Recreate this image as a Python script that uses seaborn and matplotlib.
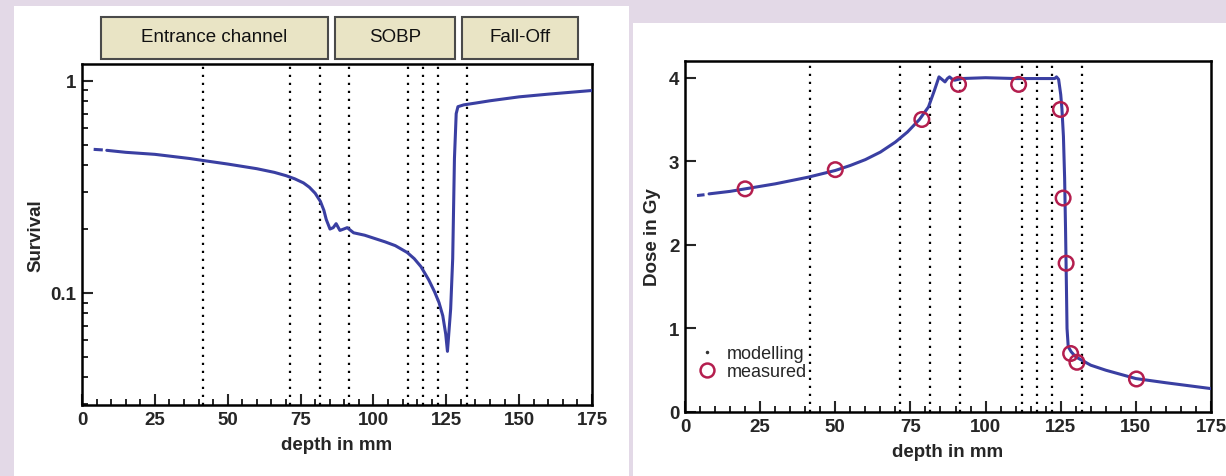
import numpy as np
import pandas as pd
import matplotlib
matplotlib.use("Agg")
import matplotlib.pyplot as plt
from matplotlib.patches import Rectangle
from matplotlib.lines import Line2D
from matplotlib.ticker import MultipleLocator, FixedLocator, NullFormatter
import seaborn as sns

# --- data ---
# survival (left panel, log scale)
surv_depth = [4, 7.2,
              8.5, 15, 25, 37, 42, 50, 60, 66, 70, 73, 76, 78, 80, 81.8, 83, 83.8, 85.1,
              86.2, 87.2, 88.5, 89.8, 91, 93.2, 97, 100.7, 104, 107.5, 111.6,
              114, 116.3, 119, 121, 122.5, 123.8, 124.8, 125.4, 126.5, 127.2,
              127.8, 128.4, 129, 131, 135, 140, 150, 160, 175]
surv_value = [0.475, 0.472,
              0.47, 0.46, 0.45, 0.43, 0.42, 0.405, 0.385, 0.37, 0.357, 0.345, 0.33,
              0.315, 0.295, 0.27, 0.245, 0.222, 0.2, 0.203, 0.212, 0.197, 0.2, 0.203,
              0.192, 0.187, 0.18, 0.174, 0.167, 0.155, 0.145, 0.133, 0.115, 0.101,
              0.09, 0.078, 0.064, 0.053, 0.084, 0.145, 0.43, 0.7, 0.755, 0.77,
              0.785, 0.805, 0.84, 0.865, 0.9]

# dose (right panel)
dose_depth = [4, 6.5,
              8, 15, 20, 30, 41, 50, 55, 60, 65, 70, 74, 78, 81, 83, 84.5, 85.5, 86.5,
              87.3, 88, 89, 89.7, 92, 100, 110, 118, 123, 123.6, 124.3, 125.0,
              125.4, 125.9, 126.3, 126.6, 126.9, 127.1, 127.5, 128.5, 130, 135,
              140, 150, 160, 175]
dose_value = [2.59, 2.6,
              2.61, 2.64, 2.67, 2.73, 2.81, 2.89, 2.95, 3.02, 3.11, 3.23, 3.35, 3.5,
              3.65, 3.85, 4.01, 3.98, 3.95, 3.99, 4.01, 3.98, 3.97, 3.99, 4.0, 3.99,
              3.99, 3.99, 4.01, 3.98, 3.8, 3.63, 3.3, 2.8, 2.2, 1.5, 1.0, 0.78, 0.72,
              0.66, 0.56, 0.5, 0.4, 0.35, 0.28]

meas_depth = [20, 50, 78.8, 91, 111, 124.9, 125.8, 126.8, 128.3, 130.4, 150.2]
meas_dose = [2.67, 2.90, 3.50, 3.92, 3.92, 3.62, 2.56, 1.78, 0.70, 0.595, 0.395]

# dotted region boundaries (mm)
boundaries = [41.5, 71.5, 81.5, 91.5, 112, 117, 122, 132]

region_labels = ["Entrance channel", "SOBP", "Fall-Off"]

# --- style ---
sns.set_style("ticks")
plt.rcParams["font.family"] = ["Liberation Sans", "DejaVu Sans"]
plt.rcParams["font.weight"] = "bold"

line_col = "#3a3fa2"
meas_col = "#b41e4e"
bg_col = "#e3d9e7"

fig = plt.figure(figsize=(12.26, 4.77), dpi=100, facecolor=bg_col)

# white panels behind the two charts
fig.add_artist(Rectangle((14 / 1226, 0), 615 / 1226, 470 / 477,
                         transform=fig.transFigure, facecolor="white", edgecolor="none", zorder=-10))
fig.add_artist(Rectangle((633 / 1226, 0), 593 / 1226, 453 / 477,
                         transform=fig.transFigure, facecolor="white", edgecolor="none", zorder=-10))

ax1 = fig.add_axes([82 / 1226, 71 / 477, 510 / 1226, 341 / 477])
ax2 = fig.add_axes([685 / 1226, 64 / 477, 526 / 1226, 351 / 477])


def style_axes(ax):
    ax.set_facecolor("none")
    for s in ax.spines.values():
        s.set_linewidth(1.8)
        s.set_color("black")
        s.set_visible(True)
    ax.tick_params(which="major", direction="in", length=8, width=1.5, pad=4,
                   labelsize=13.5, top=False, right=False)
    ax.tick_params(which="minor", direction="in", length=4, width=1.4, top=False, right=False)
    for b in boundaries:
        ax.axvline(b, color="black", linestyle=(0, (1, 2.6)), lw=1.6, zorder=1)


# --- left: survival ---
sns.lineplot(x=surv_depth[:2], y=surv_value[:2], ax=ax1, color=line_col, lw=2.2,
             linestyle=(0, (3, 2)), sort=False, estimator=None, zorder=3)
sns.lineplot(x=surv_depth[2:], y=surv_value[2:], ax=ax1, color=line_col, lw=2.2,
             sort=False, estimator=None, zorder=3)
ax1.set_yscale("log")
ax1.set_xlim(0, 175)
ax1.set_ylim(0.0296, 1.2)
ax1.xaxis.set_major_locator(MultipleLocator(25))
ax1.xaxis.set_minor_locator(MultipleLocator(5))
ax1.yaxis.set_major_locator(FixedLocator([0.1, 1]))
ax1.set_yticklabels(["0.1", "1"])
ax1.yaxis.set_minor_locator(FixedLocator([0.03, 0.04, 0.05, 0.06, 0.07, 0.08, 0.09,
                                          0.2, 0.3, 0.4, 0.5, 0.6, 0.7, 0.8, 0.9]))
ax1.yaxis.set_minor_formatter(NullFormatter())
ax1.set_xlabel("depth in mm", fontsize=13.5, fontweight="bold", labelpad=6)
ax1.set_ylabel("Survival", fontsize=13.5, fontweight="bold", labelpad=4)
style_axes(ax1)

# region boxes above the survival plot
box_px = [(101, 328), (335, 455), (462, 578)]
for (x0, x1), lab in zip(box_px, region_labels):
    fig.add_artist(Rectangle((x0 / 1226, 1 - 60 / 477), (x1 - x0) / 1226, 42 / 477,
                             transform=fig.transFigure, facecolor="#e9e4c5",
                             edgecolor="#4a4a4a", lw=1.5))
    fig.text((x0 + x1) / 2 / 1226, 1 - 38 / 477, lab, ha="center", va="center",
             fontsize=13.5, fontweight="normal", color="#111111")

# --- right: dose ---
sns.lineplot(x=dose_depth[:2], y=dose_value[:2], ax=ax2, color=line_col, lw=2.2,
             linestyle=(0, (3, 2)), sort=False, estimator=None, zorder=3)
sns.lineplot(x=dose_depth[2:], y=dose_value[2:], ax=ax2, color=line_col, lw=2.2,
             sort=False, estimator=None, zorder=3)
sns.scatterplot(x=meas_depth, y=meas_dose, ax=ax2, s=110, marker="o",
                facecolor="none", edgecolor=meas_col, linewidth=1.8, zorder=4)
ax2.set_xlim(0, 175)
ax2.set_ylim(0, 4.2)
ax2.xaxis.set_major_locator(MultipleLocator(25))
ax2.xaxis.set_minor_locator(MultipleLocator(5))
ax2.yaxis.set_major_locator(MultipleLocator(1))
ax2.set_xlabel("depth in mm", fontsize=13.5, fontweight="bold", labelpad=6)
ax2.set_ylabel("Dose in Gy", fontsize=13.5, fontweight="bold", labelpad=6)
style_axes(ax2)

handles = [Line2D([], [], linestyle="none", marker=".", markersize=3, color="#333333"),
           Line2D([], [], linestyle="none", marker="o", markersize=10,
                  markerfacecolor="none", markeredgecolor=meas_col, markeredgewidth=1.8)]
ax2.legend(handles, ["modelling", "measured"], loc="lower left",
           bbox_to_anchor=(-0.01, 0.045), frameon=False,
           prop={"size": 13, "weight": "normal"},
           handletextpad=0.5, labelspacing=0.05, handlelength=1.2)

fig.savefig("out.png", dpi=100, facecolor=bg_col)
